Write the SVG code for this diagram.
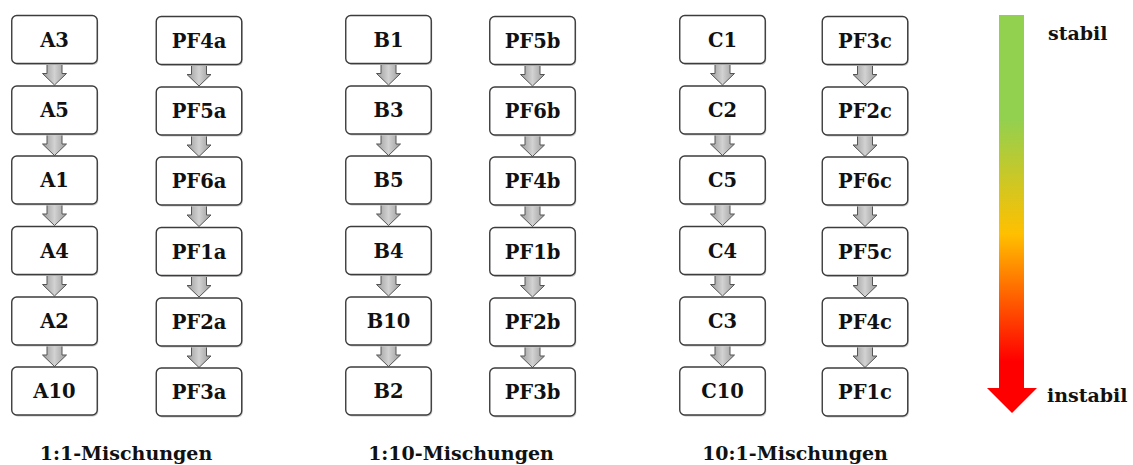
<svg xmlns="http://www.w3.org/2000/svg" xmlns:xlink="http://www.w3.org/1999/xlink" width="1133" height="465" viewBox="0 0 1133 465">
<style>
.box{fill:#fff;stroke:#3c3c3c;stroke-width:1.4}
.shadow{fill:#c8c8c8}
.t{font-family:"DejaVu Serif","Liberation Serif",serif;font-weight:bold;font-size:19.5px;fill:#111;text-anchor:middle}
.lab{font-family:"DejaVu Serif","Liberation Serif",serif;font-weight:bold;font-size:19px;fill:#111;text-anchor:middle}
.side{font-family:"DejaVu Serif","Liberation Serif",serif;font-weight:bold;font-size:19px;fill:#111}
.sa{fill:url(#ga);stroke:#555;stroke-width:1}
</style>
<defs>
<linearGradient id="ga" x1="0" y1="0" x2="1" y2="0">
<stop offset="0" stop-color="#9a9a9a"/><stop offset="0.5" stop-color="#d2d2d2"/><stop offset="1" stop-color="#9a9a9a"/>
</linearGradient>
<linearGradient id="gbig" gradientUnits="userSpaceOnUse" x1="0" y1="15" x2="0" y2="413">
<stop offset="0" stop-color="#92d050"/><stop offset="0.26" stop-color="#92d050"/><stop offset="0.55" stop-color="#ffc000"/><stop offset="0.87" stop-color="#ff0000"/><stop offset="1" stop-color="#ff0000"/>
</linearGradient>
<path id="sa" class="sa" d="M-7.5,0 H7.5 V10 H12 L0,21.5 L-12,10 H-7.5 Z"/>
<g id="bx"><rect class="shadow" x="1" y="1.5" width="85.5" height="48" rx="5"/><rect class="box" x="0" y="0" width="85.5" height="48" rx="5"/></g>
</defs>

<g id="connectors">
<use href="#sa" x="54.5" y="63.5"/><use href="#sa" x="54.5" y="134"/><use href="#sa" x="54.5" y="204"/><use href="#sa" x="54.5" y="274.5"/><use href="#sa" x="54.5" y="345"/>
<use href="#sa" x="199" y="64.5"/><use href="#sa" x="199" y="135"/><use href="#sa" x="199" y="205"/><use href="#sa" x="199" y="275.5"/><use href="#sa" x="199" y="346"/>
<use href="#sa" x="388.5" y="63.5"/><use href="#sa" x="388.5" y="134"/><use href="#sa" x="388.5" y="204"/><use href="#sa" x="388.5" y="274.5"/><use href="#sa" x="388.5" y="345"/>
<use href="#sa" x="532.5" y="64.5"/><use href="#sa" x="532.5" y="135"/><use href="#sa" x="532.5" y="205"/><use href="#sa" x="532.5" y="275.5"/><use href="#sa" x="532.5" y="346"/>
<use href="#sa" x="722.5" y="63.5"/><use href="#sa" x="722.5" y="134"/><use href="#sa" x="722.5" y="204"/><use href="#sa" x="722.5" y="274.5"/><use href="#sa" x="722.5" y="345"/>
<use href="#sa" x="865" y="64.5"/><use href="#sa" x="865" y="135"/><use href="#sa" x="865" y="205"/><use href="#sa" x="865" y="275.5"/><use href="#sa" x="865" y="346"/>
</g>

<g id="colA">
<g id="A3"><use href="#bx" x="11.75" y="15.5"/><text class="t" x="54.5" y="46.5">A3</text></g>
<g id="A5"><use href="#bx" x="11.75" y="86"/><text class="t" x="54.5" y="117">A5</text></g>
<g id="A1"><use href="#bx" x="11.75" y="156"/><text class="t" x="54.5" y="187">A1</text></g>
<g id="A4"><use href="#bx" x="11.75" y="226.5"/><text class="t" x="54.5" y="257.5">A4</text></g>
<g id="A2"><use href="#bx" x="11.75" y="297"/><text class="t" x="54.5" y="328">A2</text></g>
<g id="A10"><use href="#bx" x="11.75" y="367"/><text class="t" x="54.5" y="398">A10</text></g>
</g>
<g id="colPFa">
<g id="PF4a"><use href="#bx" x="156.25" y="16.5"/><text class="t" x="199" y="47.5">PF4a</text></g>
<g id="PF5a"><use href="#bx" x="156.25" y="87"/><text class="t" x="199" y="118">PF5a</text></g>
<g id="PF6a"><use href="#bx" x="156.25" y="157"/><text class="t" x="199" y="188">PF6a</text></g>
<g id="PF1a"><use href="#bx" x="156.25" y="227.5"/><text class="t" x="199" y="258.5">PF1a</text></g>
<g id="PF2a"><use href="#bx" x="156.25" y="298"/><text class="t" x="199" y="329">PF2a</text></g>
<g id="PF3a"><use href="#bx" x="156.25" y="368"/><text class="t" x="199" y="399">PF3a</text></g>
</g>
<g id="colB">
<g id="B1"><use href="#bx" x="345.75" y="15.5"/><text class="t" x="388.5" y="46.5">B1</text></g>
<g id="B3"><use href="#bx" x="345.75" y="86"/><text class="t" x="388.5" y="117">B3</text></g>
<g id="B5"><use href="#bx" x="345.75" y="156"/><text class="t" x="388.5" y="187">B5</text></g>
<g id="B4"><use href="#bx" x="345.75" y="226.5"/><text class="t" x="388.5" y="257.5">B4</text></g>
<g id="B10"><use href="#bx" x="345.75" y="297"/><text class="t" x="388.5" y="328">B10</text></g>
<g id="B2"><use href="#bx" x="345.75" y="367"/><text class="t" x="388.5" y="398">B2</text></g>
</g>
<g id="colPFb">
<g id="PF5b"><use href="#bx" x="489.75" y="16.5"/><text class="t" x="532.5" y="47.5">PF5b</text></g>
<g id="PF6b"><use href="#bx" x="489.75" y="87"/><text class="t" x="532.5" y="118">PF6b</text></g>
<g id="PF4b"><use href="#bx" x="489.75" y="157"/><text class="t" x="532.5" y="188">PF4b</text></g>
<g id="PF1b"><use href="#bx" x="489.75" y="227.5"/><text class="t" x="532.5" y="258.5">PF1b</text></g>
<g id="PF2b"><use href="#bx" x="489.75" y="298"/><text class="t" x="532.5" y="329">PF2b</text></g>
<g id="PF3b"><use href="#bx" x="489.75" y="368"/><text class="t" x="532.5" y="399">PF3b</text></g>
</g>
<g id="colC">
<g id="C1"><use href="#bx" x="679.75" y="15.5"/><text class="t" x="722.5" y="46.5">C1</text></g>
<g id="C2"><use href="#bx" x="679.75" y="86"/><text class="t" x="722.5" y="117">C2</text></g>
<g id="C5"><use href="#bx" x="679.75" y="156"/><text class="t" x="722.5" y="187">C5</text></g>
<g id="C4"><use href="#bx" x="679.75" y="226.5"/><text class="t" x="722.5" y="257.5">C4</text></g>
<g id="C3"><use href="#bx" x="679.75" y="297"/><text class="t" x="722.5" y="328">C3</text></g>
<g id="C10"><use href="#bx" x="679.75" y="367"/><text class="t" x="722.5" y="398">C10</text></g>
</g>
<g id="colPFc">
<g id="PF3c"><use href="#bx" x="822.25" y="16.5"/><text class="t" x="865" y="47.5">PF3c</text></g>
<g id="PF2c"><use href="#bx" x="822.25" y="87"/><text class="t" x="865" y="118">PF2c</text></g>
<g id="PF6c"><use href="#bx" x="822.25" y="157"/><text class="t" x="865" y="188">PF6c</text></g>
<g id="PF5c"><use href="#bx" x="822.25" y="227.5"/><text class="t" x="865" y="258.5">PF5c</text></g>
<g id="PF4c"><use href="#bx" x="822.25" y="298"/><text class="t" x="865" y="329">PF4c</text></g>
<g id="PF1c"><use href="#bx" x="822.25" y="368"/><text class="t" x="865" y="399">PF1c</text></g>
</g>

<g id="labels">
<text class="lab" x="126" y="460">1:1-Mischungen</text>
<text class="lab" x="461" y="460">1:10-Mischungen</text>
<text class="lab" x="795" y="460">10:1-Mischungen</text>
</g>

<g id="scale">
<path d="M999,15 H1024 V388 H1037 L1012,413 L987,388 H999 Z" fill="url(#gbig)"/>
<text class="side" x="1048" y="40">stabil</text>
<text class="side" x="1047" y="402">instabil</text>
</g>
</svg>
